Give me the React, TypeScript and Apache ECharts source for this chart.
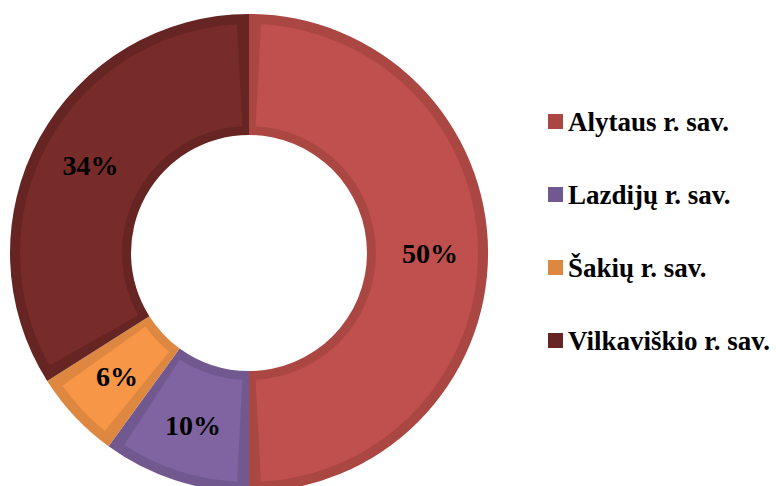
import React, { useEffect, useRef } from "react";
import * as echarts from "echarts";

const categories = ["Alytaus r. sav.", "Lazdijų r. sav.", "Šakių r. sav.", "Vilkaviškio r. sav."];
const values = [50, 10, 6, 34];
const mainColors = ["#C0504D", "#8064A2", "#F79646", "#772C2A"];
const edgeColors = ["#AB4743", "#71598F", "#DE8740", "#662522"];

export default function App() {
  const ref = useRef<HTMLDivElement>(null);
  useEffect(() => {
    if (!ref.current) return;
    const chart = echarts.init(ref.current, undefined, { renderer: "svg" });
    const center = [249, 253];
    chart.setOption({
      animation: false,
      backgroundColor: "#ffffff",
      legend: {
        orient: "vertical",
        left: 548,
        top: 108,
        padding: 0,
        itemWidth: 15,
        itemHeight: 15,
        itemGap: 46,
        icon: "rect",
        selectedMode: false,
        textStyle: {
          fontFamily: "Liberation Serif",
          fontWeight: "bold",
          fontSize: 27,
          color: "#000",
        },
        data: categories.map((name, i) => ({ name, itemStyle: { color: edgeColors[i] } })),
      },
      series: [
        {
          type: "pie",
          silent: true,
          center,
          radius: [118, 239],
          startAngle: 90,
          clockwise: true,
          label: { show: false },
          labelLine: { show: false },
          data: categories.map((name, i) => ({
            name,
            value: values[i],
            itemStyle: { color: edgeColors[i] },
          })),
        },
        {
          type: "pie",
          silent: true,
          center,
          radius: [127, 229],
          startAngle: 90,
          clockwise: true,
          padAngle: 6,
          label: {
            show: true,
            position: "inside",
            formatter: "{c}%",
            fontFamily: "Liberation Serif",
            fontWeight: "bold",
            fontSize: 28,
            color: "#000",
          },
          labelLine: { show: false },
          data: categories.map((name, i) => ({
            name,
            value: values[i],
            itemStyle: { color: mainColors[i] },
          })),
        },
      ],
    });
    return () => chart.dispose();
  }, []);
  return (
    <div
      ref={ref}
      style={{ position: "fixed", left: 0, top: 0, width: 776, height: 486 }}
    />
  );
}
